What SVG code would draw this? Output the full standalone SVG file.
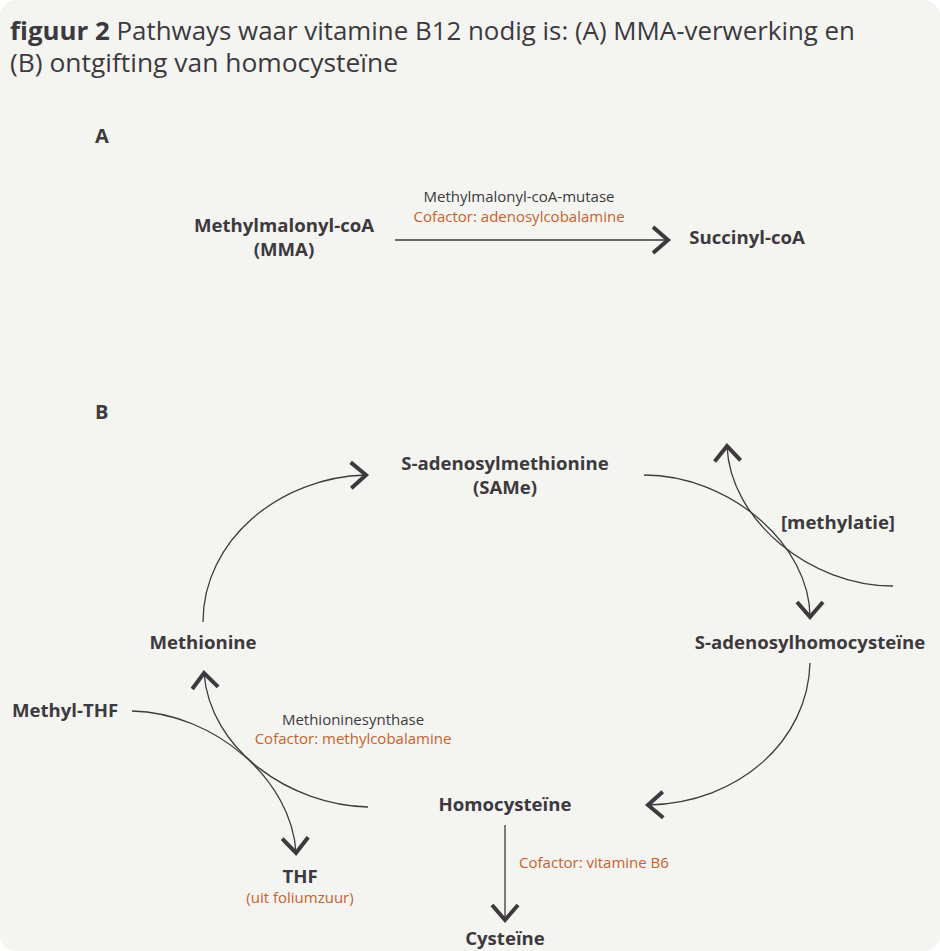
<svg xmlns="http://www.w3.org/2000/svg" width="940" height="951" viewBox="0 0 940 951">
<defs>
<style>
text{font-family:"Open Sans","Noto Sans","DejaVu Sans",sans-serif;fill:#3d393e}
.t{font-size:25.5px}
.tb{font-weight:700}
.n{font-size:18.6px;font-weight:700;text-anchor:middle}
.s{font-size:15px;text-anchor:middle}
.o{fill:#c8612e}
.h{font-size:20px;font-weight:700}
.ln{fill:none;stroke:#3d393e;stroke-width:1.3}
</style>
<marker id="ah" markerUnits="userSpaceOnUse" viewBox="-20 -16 24 32" refX="0" refY="0" markerWidth="24" markerHeight="32" orient="auto" overflow="visible">
<path d="M-15,-13 L0,0 L-15,13" fill="none" stroke="#3d393e" stroke-width="4" stroke-linejoin="miter"/>
</marker>
</defs>
<rect x="0" y="0" width="940" height="951" fill="#ffffff"/>
<rect x="0" y="0" width="940" height="951" rx="16" ry="16" fill="#f4f5f1"/>
<g id="title">
<text class="t" x="10" y="40" textLength="845" lengthAdjust="spacingAndGlyphs"><tspan class="tb">figuur 2</tspan> Pathways waar vitamine B12 nodig is: (A) MMA-verwerking en</text>
<text class="t" x="10" y="72" textLength="388" lengthAdjust="spacingAndGlyphs">(B) ontgifting van homocysteïne</text>
</g>
<g id="label-A"><text class="h" x="95" y="143">A</text></g>
<g id="label-B"><text class="h" x="95" y="419">B</text></g>
<g id="connectors">
<path class="ln" d="M395,240 L668,240" marker-end="url(#ah)"/>
<path class="ln" d="M203,622 C203,540 280,477 366,475" marker-end="url(#ah)"/>
<path class="ln" d="M644,475 C730,475 810,545 810,617" marker-end="url(#ah)"/>
<path class="ln" d="M893,586 C810,586 730,520 727,446" marker-end="url(#ah)"/>
<path class="ln" d="M810,663 C808,740 740,803 648,805" marker-end="url(#ah)"/>
<path class="ln" d="M368,807 C290,805 210,750 204,673" marker-end="url(#ah)"/>
<path class="ln" d="M132,711 C215,713 292,780 296,853" marker-end="url(#ah)"/>
<path class="ln" d="M505,825 L505,920" marker-end="url(#ah)"/>
</g>
<g id="mma"><text class="n" x="284" y="232">Methylmalonyl-coA</text><text class="n" x="284" y="256">(MMA)</text></g>
<g id="mutase"><text class="s" x="519" y="202">Methylmalonyl-coA-mutase</text><text class="s o" x="519" y="222">Cofactor: adenosylcobalamine</text></g>
<g id="succinyl"><text class="n" x="747" y="244">Succinyl-coA</text></g>
<g id="same"><text class="n" x="505" y="470">S-adenosylmethionine</text><text class="n" x="505" y="494">(SAMe)</text></g>
<g id="methylatie"><text class="n" x="838" y="529">[methylatie]</text></g>
<g id="sah"><text class="n" x="810" y="649">S-adenosylhomocysteïne</text></g>
<g id="methionine"><text class="n" x="203" y="649">Methionine</text></g>
<g id="methylthf"><text class="n" x="65" y="717">Methyl-THF</text></g>
<g id="synthase"><text class="s" x="353" y="725">Methioninesynthase</text><text class="s o" x="353" y="744">Cofactor: methylcobalamine</text></g>
<g id="homocysteine"><text class="n" x="505" y="811">Homocysteïne</text></g>
<g id="b6"><text class="s o" x="594" y="868">Cofactor: vitamine B6</text></g>
<g id="thf"><text class="n" x="300" y="883">THF</text><text class="s o" x="300" y="903">(uit foliumzuur)</text></g>
<g id="cysteine"><text class="n" x="505" y="945">Cysteïne</text></g>
</svg>
